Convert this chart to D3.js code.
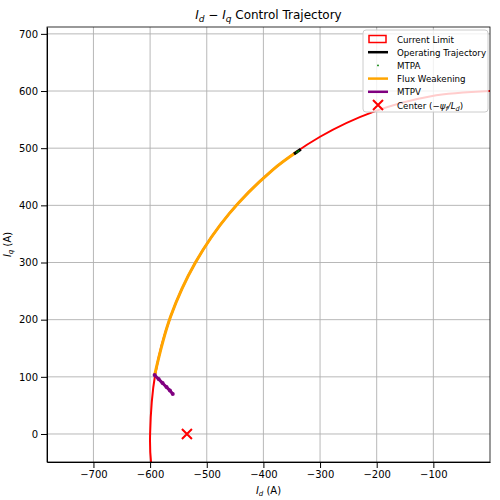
<!DOCTYPE html>
<html><head><meta charset="utf-8">
<script src="https://cdn.jsdelivr.net/npm/d3@7"></script>
<style>body{margin:0;background:#fff}text{font-family:"DejaVu Sans",sans-serif}</style>
</head><body><div id="chart"></div>
<script>
// data (Id, Iq in A)
var currentLimit = [[10,600],[0,600],[-104,591],[-205,564],[-300,520],[-386,460],[-460,386],[-520,300],[-564,205],[-591,104],[-600,0],[-598,-52],[-594,-70]];
var fluxWeakening = [[-592,103],[-564,205],[-520,300],[-460,386],[-386,460],[-340,494]];
var operating = [[-346,490],[-334,498]];
var mtpa = [[-341,493],[-338,495]];
var mtpv = [[-592,103],[-585,96],[-578,89],[-571,82],[-565,76],[-560,70]];
var center = [-535, 0];
var xTicks = [-700,-600,-500,-400,-300,-200,-100];
var yTicks = [0,100,200,300,400,500,600,700];

var margin = {top: 27, right: 10, bottom: 38, left: 47},
  width = 500 - margin.left - margin.right,
  height = 500 - margin.top - margin.bottom;

var root = d3.select("#chart").append("svg").attr("width", 500).attr("height", 500);
var svg = root.append("g").attr("transform", "translate(" + margin.left + "," + margin.top + ")");

var xscale = d3.scaleLinear().domain([-782, 0]).range([0, width]);
var yscale = d3.scaleLinear().domain([-49, 712]).range([height, 0]);

svg.append("clipPath").attr("id", "clip").append("rect").attr("width", width).attr("height", height);

// grid
svg.append("g").selectAll("line").data(xTicks).enter().append("line")
  .attr("x1", d => xscale(d)).attr("x2", d => xscale(d)).attr("y1", 0).attr("y2", height)
  .attr("stroke", "#b0b0b0").attr("stroke-width", 0.9);
svg.append("g").selectAll("line").data(yTicks).enter().append("line")
  .attr("y1", d => yscale(d)).attr("y2", d => yscale(d)).attr("x1", 0).attr("x2", width)
  .attr("stroke", "#b0b0b0").attr("stroke-width", 0.9);

var line = d3.line().x(d => xscale(d[0])).y(d => yscale(d[1])).curve(d3.curveCatmullRom);
var plot = svg.append("g").attr("clip-path", "url(#clip)");

plot.append("path").datum(currentLimit).attr("d", line).attr("fill", "none").attr("stroke", "red").attr("stroke-width", 2);
plot.append("path").datum(fluxWeakening).attr("d", line).attr("fill", "none").attr("stroke", "orange").attr("stroke-width", 3);
plot.append("path").datum(operating).attr("d", line).attr("fill", "none").attr("stroke", "black").attr("stroke-width", 3);
plot.selectAll(".mtpa").data(mtpa).enter().append("circle").attr("class", "mtpa")
  .attr("cx", d => xscale(d[0])).attr("cy", d => yscale(d[1])).attr("r", 1).attr("fill", "green");
plot.append("path").datum(mtpv).attr("d", line).attr("fill", "none").attr("stroke", "purple").attr("stroke-width", 3);
plot.selectAll(".mtpv").data(mtpv).enter().append("circle").attr("class", "mtpv")
  .attr("cx", d => xscale(d[0])).attr("cy", d => yscale(d[1])).attr("r", 2).attr("fill", "purple");
var cx = xscale(center[0]), cy = yscale(center[1]);
plot.append("path").attr("d", "M" + (cx-5) + "," + (cy-5) + "L" + (cx+5) + "," + (cy+5) + "M" + (cx-5) + "," + (cy+5) + "L" + (cx+5) + "," + (cy-5))
  .attr("stroke", "red").attr("stroke-width", 2);

// axes
var fmt = d => d < 0 ? "\u2212" + Math.abs(d) : d;
svg.append("g").attr("transform", "translate(0," + height + ")")
  .call(d3.axisBottom(xscale).tickValues(xTicks).tickFormat(fmt).tickSizeOuter(0))
  .style("font-size", "10px");
svg.append("g").call(d3.axisLeft(yscale).tickValues(yTicks).tickFormat(fmt).tickSizeOuter(0))
  .style("font-size", "10px");
svg.append("rect").attr("width", width).attr("height", height).attr("fill", "none").attr("stroke", "black").attr("stroke-width", 0.8);

// labels
var t = svg.append("text").attr("x", width / 2).attr("y", -8).attr("text-anchor", "middle").style("font-size", "12px");
t.append("tspan").attr("font-style", "italic").text("I");
t.append("tspan").attr("font-style", "italic").attr("font-size", "9px").attr("dy", 3).text("d");
t.append("tspan").attr("dy", -3).text(" \u2212 ");
t.append("tspan").attr("font-style", "italic").text("I");
t.append("tspan").attr("font-style", "italic").attr("font-size", "9px").attr("dy", 3).text("q");
t.append("tspan").attr("dy", -3).text(" Control Trajectory");

var xl = svg.append("text").attr("x", width / 2).attr("y", height + 32).attr("text-anchor", "middle").style("font-size", "10px");
xl.append("tspan").attr("font-style", "italic").text("I");
xl.append("tspan").attr("font-style", "italic").attr("font-size", "7px").attr("dy", 2).text("d");
xl.append("tspan").attr("dy", -2).text(" (A)");
var yl = svg.append("text").attr("transform", "translate(-36," + (height / 2) + ")rotate(-90)").attr("text-anchor", "middle").style("font-size", "10px");
yl.append("tspan").attr("font-style", "italic").text("I");
yl.append("tspan").attr("font-style", "italic").attr("font-size", "7px").attr("dy", 2).text("q");
yl.append("tspan").attr("dy", -2).text(" (A)");

// legend
var lg = svg.append("g").attr("transform", "translate(" + (width - 127) + ",3)");
lg.append("rect").attr("width", 125).attr("height", 82).attr("rx", 3).attr("fill", "white").attr("fill-opacity", 0.8).attr("stroke", "#ccc");
var items = ["Current Limit", "Operating Trajectory", "MTPA", "Flux Weakening", "MTPV", "Center"];
items.forEach(function (name, i) {
  var y = 9 + i * 13.2;
  var g = lg.append("g").attr("transform", "translate(5," + y + ")");
  if (i == 0) g.append("rect").attr("x", 1).attr("y", -3.5).attr("width", 17).attr("height", 7).attr("fill", "none").attr("stroke", "red").attr("stroke-width", 1.5);
  if (i == 1) g.append("line").attr("x2", 20).attr("stroke", "black").attr("stroke-width", 2.5);
  if (i == 2) g.append("circle").attr("cx", 10).attr("r", 0.9).attr("fill", "green");
  if (i == 3) g.append("line").attr("x2", 20).attr("stroke", "orange").attr("stroke-width", 2.5);
  if (i == 4) g.append("line").attr("x2", 20).attr("stroke", "purple").attr("stroke-width", 2.5);
  if (i == 5) g.append("path").attr("d", "M5,-5L15,5M5,5L15,-5").attr("stroke", "red").attr("stroke-width", 2);
  var tx = g.append("text").attr("x", 29).attr("y", 3.5).style("font-size", "8.7px");
  if (i < 5) tx.text(name);
  else {
    tx.append("tspan").text("Center (\u2212");
    tx.append("tspan").attr("font-style", "italic").text("\u03c8");
    tx.append("tspan").attr("font-style", "italic").attr("font-size", "6.5px").attr("dy", 2).text("f");
    tx.append("tspan").attr("dy", -2).attr("font-style", "italic").text("/L");
    tx.append("tspan").attr("font-style", "italic").attr("font-size", "6.5px").attr("dy", 2).text("d");
    tx.append("tspan").attr("dy", -2).text(")");
  }
});
</script></body></html>
